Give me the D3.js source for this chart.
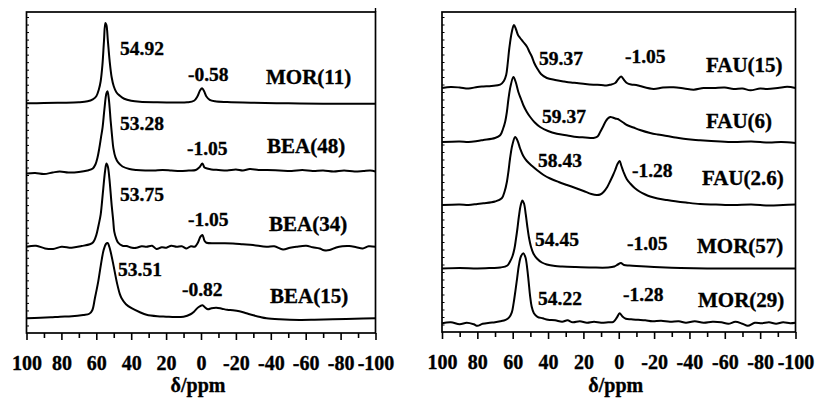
<!DOCTYPE html>
<html>
<head>
<meta charset="utf-8">
<script src="https://cdn.jsdelivr.net/npm/d3@7"></script>
<style>
  body { margin: 0; background: #fff; }
  text { font-family: "Liberation Serif", "Times New Roman", serif; font-weight: bold; fill: #000; stroke: #000; stroke-width: 0.35px; }
</style>
</head>
<body>
<svg id="chart" width="823" height="399"></svg>
<script>
// spectra: [ppm, intensity above own baseline (a.u.)]
const mor11 = [[100,0],[90,0.02],[80,0.05],[70,0.1],[65,0.2],[62,0.4],[60,0.7],[58.5,1.4],[57.5,2.2],[56.5,3.8],[55.6,6.2],[54.8,8.0],[54.2,7.8],[53.4,6.3],[52.4,4.3],[51.2,2.6],[50,1.7],[48.5,1.1],[46.5,0.75],[44,0.45],[40,0.25],[35,0.15],[25,0.1],[15,0.08],[8,0.1],[4,0.25],[2,0.7],[0.5,1.3],[-0.6,1.5],[-1.8,1.2],[-3,0.7],[-5,0.35],[-8,0.2],[-15,0.12],[-30,0.05],[-50,0],[-70,-0.05],[-100,-0.05]];
const bea48 = [[100,0],[95,0.05],[90,-0.05],[85,0.1],[81,0.2],[76,0.1],[70,0.15],[65,0.3],[62,0.5],[60.5,0.9],[59.3,1.6],[58.3,2.5],[57.3,3.6],[56.4,4.6],[55.3,6.5],[54.2,8.0],[53.6,8.2],[52.8,7.4],[51.8,5.3],[51,3.8],[50.2,2.5],[49,1.6],[47.5,1.1],[45,0.7],[41,0.45],[37,0.35],[32,0.3],[27,0.3],[22,0.35],[17,0.3],[12,0.25],[7,0.3],[3,0.35],[1,0.6],[-0.8,1.0],[-2,0.6],[-3.5,0.5],[-6,0.4],[-10,0.35],[-15,0.3],[-20,0.4],[-24,0.3],[-28,0.45],[-33,0.35],[-38,0.35],[-45,0.3],[-52,0.25],[-58,0.35],[-64,0.25],[-70,0.3],[-76,0.2],[-82,0.3],[-88,0.2],[-93,0.25],[-97,0.3],[-100,0.2]];
const bea34 = [[100,0],[94.5,0.1],[89.4,-0.17],[84.7,-0.23],[79.9,0],[74.1,-0.1],[68.4,0.07],[63.7,0.25],[61.8,0.45],[60.5,0.9],[59.5,1.5],[58.5,2.3],[57.5,3.2],[56.9,4.15],[56,5.8],[55,7.5],[54.2,8.3],[53.4,8.0],[52.5,6.8],[51.2,4.15],[50.3,2.6],[49.7,1.5],[48.6,0.8],[47.5,0.4],[45,0.1],[42.7,0.07],[39.5,-0.1],[36.9,-0.1],[34,0.05],[31.2,0],[28,0.1],[25.5,-0.23],[22.5,-0.05],[19.8,-0.1],[17,0.1],[14,0],[11,0.05],[8.3,-0.17],[5.8,0.05],[3.6,0],[1.8,0.4],[0.3,1.0],[-0.8,1.17],[-2,0.6],[-3.1,0.4],[-10,0.35],[-18.3,0.33],[-24,0.25],[-29.8,0.17],[-37.5,0],[-42,0.05],[-47,-0.27],[-51,-0.1],[-54.6,0],[-60.3,0.1],[-64,-0.05],[-68,-0.17],[-70.5,-0.35],[-73.7,-0.33],[-77.5,-0.07],[-81,0.05],[-85,0.07],[-89,-0.05],[-92.7,-0.17],[-96,0.05],[-100,0]];
const bea15 = [[100,0],[92,0.05],[86,0.1],[80.8,0.16],[74,0.2],[67.5,0.33],[64,0.45],[62.3,0.8],[60.8,2.0],[58.9,3.65],[57.4,5.3],[55.8,6.8],[54.5,7.4],[53.5,7.5],[52.5,7.1],[51.5,6.4],[50.4,5.5],[49.4,4.6],[48,3.4],[46.5,2.4],[45.5,2.0],[43,1.4],[39.8,1.0],[35,0.6],[31.2,0.35],[25,0.2],[20,0.16],[15,0.12],[10,0.16],[6,0.4],[4,0.66],[1.5,1.1],[-0.8,1.3],[-2.5,1.05],[-4,0.9],[-6,1.0],[-8.8,1.05],[-12,0.95],[-15,0.85],[-18.3,0.8],[-22,0.7],[-26,0.5],[-30,0.3],[-34,0.12],[-37.5,0],[-45,-0.1],[-56.5,-0.17],[-65,-0.15],[-75.6,-0.1],[-88,-0.05],[-100,0]];

const fau15 = [[100,0],[95,0.1],[90,0.05],[85,-0.05],[80,0.1],[76.6,0.15],[72,0.2],[67.1,0.33],[65,0.7],[63.7,1.3],[62.8,2.5],[61.9,4.0],[60.5,5.6],[59.3,6.3],[58.2,5.9],[57,5.3],[55.8,5.0],[54,4.6],[52,4.15],[50.5,3.6],[49.2,3.15],[47.8,2.5],[46.3,2.0],[44,1.4],[40.7,1.0],[36,0.8],[31.3,0.66],[27,0.55],[23.7,0.5],[19,0.4],[14.3,0.33],[10,0.3],[7,0.25],[4.8,0.33],[2,0.5],[0.2,0.9],[-1.4,1.15],[-3,0.8],[-4.6,0.5],[-7,0.35],[-9.9,0.3],[-12,0.2],[-19.7,-0.1],[-25,0.05],[-31,0.07],[-37,-0.05],[-42.4,-0.17],[-48,0],[-53.7,0],[-60,0.05],[-65,-0.1],[-70,-0.05],[-74.5,-0.23],[-80,-0.05],[-84,-0.1],[-90,0],[-95.3,0.12],[-100,0]];
const fau6 = [[100,0],[90,0.05],[85,0],[80,0.1],[76.6,0.2],[70,0.4],[67.1,0.67],[65.5,1.3],[64.3,2.0],[63.3,3.0],[62.4,4.3],[61.2,5.6],[59.6,6.5],[58.3,6.0],[56.8,5.0],[55.3,4.3],[53.9,3.65],[52,3.0],[50.1,2.5],[47.5,1.95],[44.5,1.5],[40,1.1],[35,0.83],[29,0.65],[23.7,0.5],[19,0.45],[14.3,0.4],[12,0.55],[10.5,1.0],[9,1.5],[7.6,2.0],[6.2,2.35],[4.8,2.5],[3.4,2.45],[2,2.35],[0.5,2.3],[-0.8,2.15],[-2.5,1.95],[-4.6,1.7],[-8.3,1.45],[-12,1.2],[-17.8,0.9],[-22,0.75],[-27.3,0.6],[-32,0.45],[-36.7,0.32],[-42,0.22],[-46,0.17],[-55,0.08],[-65,0],[-75,0.05],[-85,-0.05],[-92,0],[-100,-0.1]];
const fau26 = [[100,0],[90,0.05],[85,0],[80,0.1],[76.6,0.17],[70,0.35],[66.2,0.67],[64.5,1.4],[63.3,2.3],[62.3,3.5],[61.5,4.65],[60.2,6.0],[58.6,6.8],[57.2,6.4],[55.8,5.65],[54,4.9],[52,4.4],[49,3.9],[46.3,3.5],[42.5,3.0],[38.8,2.65],[34,2.3],[29.3,2.0],[24.5,1.7],[19.9,1.4],[15.5,1.1],[12.4,1.0],[10.5,1.05],[8.6,1.3],[6.5,1.8],[4.8,2.4],[3.2,3.0],[2,3.5],[0.7,4.1],[-0.5,4.4],[-1.5,3.9],[-2.7,3.3],[-4.5,2.6],[-6.5,2.15],[-9,1.7],[-12.2,1.3],[-15,1.05],[-17.8,0.85],[-22,0.65],[-27.3,0.5],[-32,0.38],[-38,0.25],[-46,0.1],[-55,0.05],[-65,0],[-75,0.05],[-85,-0.05],[-93,0],[-100,0.05]];
const mor57 = [[100,0],[90,0.05],[80,0],[72,0.05],[67,0.1],[63,0.3],[61.5,0.7],[60.2,1.2],[59,2.0],[58.2,2.9],[57.4,3.9],[56.5,5.2],[55.5,6.3],[54.5,6.8],[53.6,6.5],[52.6,5.4],[51.8,4.3],[50.8,3.1],[49.7,2.2],[48.3,1.5],[46.3,1.0],[43.5,0.6],[40.7,0.4],[36,0.25],[32,0.2],[25,0.15],[15,0.1],[6,0.1],[2.5,0.2],[0.5,0.4],[-1.2,0.55],[-3,0.35],[-6,0.3],[-10,0.25],[-20,0.15],[-35,0.05],[-50,0],[-70,0],[-90,0],[-100,0]];
const mor29 = [[100,0],[95,0.1],[90,-0.1],[86,0.05],[82,-0.1],[80,-0.25],[77,-0.05],[73,0.05],[70,0.1],[67,0.2],[64,0.35],[62,0.6],[60.5,1.1],[59.5,2.0],[58.5,3.2],[57.5,4.5],[56.5,5.8],[55.3,6.7],[54,7.0],[52.8,6.6],[51.8,5.5],[51,4.2],[50.2,2.8],[49.3,1.7],[48,1.0],[46,0.65],[43,0.5],[40,0.35],[36,0.3],[32,0.15],[29,0.3],[26,0.1],[22,0.2],[18,0.05],[14,0.15],[10,0.05],[6,0.1],[3,0.15],[1,0.6],[-0.5,1.0],[-2,0.7],[-4,0.45],[-7,0.4],[-11,0.35],[-15,0.3],[-19,0.2],[-24,0.25],[-29,0.15],[-34,0.2],[-38,0.05],[-43,0.2],[-48,0.05],[-53,0.15],[-58,0.1],[-62,-0.05],[-66,0.15],[-70,-0.05],[-73,-0.25],[-77,0.05],[-81,0],[-85,0.1],[-89,-0.05],[-93,0.1],[-97,0],[-100,0.05]];

// stacking offsets (a.u.), top to bottom
const leftOffsets = [22.9, 15.9, 8.6, 1.47];
const rightOffsets = [24.4, 19.0, 12.7, 6.35, 0.87];

const leftNames = ["MOR(11)", "BEA(48)", "BEA(34)", "BEA(15)"];
const rightNames = ["FAU(15)", "FAU(6)", "FAU(2.6)", "MOR(57)", "MOR(29)"];
const leftShifts = [["54.92", "-0.58"], ["53.28", "-1.05"], ["53.75", "-1.05"], ["53.51", "-0.82"]];
const rightShifts = [["59.37", "-1.05"], ["59.37", ""], ["58.43", "-1.28"], ["54.45", "-1.05"], ["54.22", "-1.28"]];

const majorTicks = [100, 80, 60, 40, 20, 0, -20, -40, -60, -80, -100];
const minorTicks = [90, 70, 50, 30, 10, -10, -30, -50, -70, -90];
const xTitle = "\u03b4/ppm";

// label placement (px inside svg)
const leftNamePos = [[266, 84], [267, 153], [269, 231], [270, 303]];
const leftShiftPos = [[[120, 55], [188, 81]], [[120, 130], [187, 155]], [[120, 201], [188, 226]], [[118, 276], [182, 296]]];
const rightNamePos = [[706, 72], [706, 128], [702, 185], [697, 253], [698, 307]];
const rightShiftPos = [[[539, 65], [625, 63]], [[542, 123], [0, 0]], [[538, 167], [632, 177]], [[535, 246], [627, 250]], [[538, 305], [623, 301]]];

const svg = d3.select("#chart");

function dessinePanneau(cfg) {
    const x = d3.scaleLinear().domain([100, -100]).range([cfg.left, cfg.right]);
    const y = d3.scaleLinear().domain([0, 32]).range([cfg.bottom, cfg.top]);
    const g = svg.append("g");

    const ligne = d3.line()
        .x(d => x(d[0]))
        .y(d => y(d[1]))
        .curve(d3.curveCatmullRom.alpha(0.5));

    cfg.spectres.forEach(function (s, i) {
        const off = cfg.offsets[i];
        g.append("path")
            .datum(s.map(p => [p[0], p[1] + off]))
            .attr("d", ligne)
            .attr("fill", "none")
            .attr("stroke", "#000")
            .attr("stroke-width", 2)
            .attr("stroke-linejoin", "round");
    });

    // cadre
    g.append("rect")
        .attr("x", cfg.left)
        .attr("y", cfg.top)
        .attr("width", cfg.right - cfg.left)
        .attr("height", cfg.bottom - cfg.top)
        .attr("fill", "none")
        .attr("stroke", "#000")
        .attr("stroke-width", 1.7);
    g.append("line")
        .attr("x1", cfg.right).attr("x2", cfg.right)
        .attr("y1", cfg.top - 4).attr("y2", cfg.top)
        .attr("stroke", "#000").attr("stroke-width", 1.4);

    // petits traits sur l'axe gauche
    const gy = g.append("g")
        .attr("transform", "translate(" + cfg.left + ",0)")
        .call(d3.axisLeft(y).tickValues(d3.range(0.75, 32, 0.75)).tickSize(-2.5).tickFormat(""));
    gy.select(".domain").remove();
    gy.selectAll("line").attr("stroke-width", 1);

    // axe x
    const gmin = g.append("g")
        .attr("transform", "translate(0," + cfg.bottom + ")")
        .call(d3.axisBottom(x).tickValues(minorTicks).tickSize(5).tickFormat(""));
    gmin.select(".domain").remove();
    gmin.selectAll("line").attr("stroke-width", 1.6);

    const gx = g.append("g")
        .attr("transform", "translate(0," + cfg.bottom + ")")
        .call(d3.axisBottom(x).tickValues(majorTicks).tickSize(7).tickPadding(15.8).tickFormat(d => String(d)));
    gx.select(".domain").remove();
    gx.selectAll("line").attr("stroke-width", 1.6);
    gx.selectAll("text")
        .style("font-family", '"Liberation Serif", serif')
        .style("font-weight", "bold")
        .style("font-size", "20px")
        .attr("fill", "#000");

    g.append("text")
        .attr("x", (cfg.left + cfg.right) / 2 - 3)
        .attr("y", 392)
        .attr("text-anchor", "middle")
        .style("font-size", "20px")
        .text(xTitle);

    // etiquettes
    cfg.noms.forEach(function (n, i) {
        g.append("text")
            .attr("x", cfg.nomPos[i][0])
            .attr("y", cfg.nomPos[i][1])
            .style("font-size", "21px")
            .text(n);
        cfg.shifts[i].forEach(function (t, j) {
            if (t === "") return;
            g.append("text")
                .attr("x", cfg.shiftPos[i][j][0])
                .attr("y", cfg.shiftPos[i][j][1])
                .style("font-size", "19.5px")
                .text(t);
        });
    });
}

dessinePanneau({
    left: 26.5, right: 375.5, top: 12, bottom: 333,
    spectres: [mor11, bea48, bea34, bea15],
    offsets: leftOffsets,
    noms: leftNames, nomPos: leftNamePos,
    shifts: leftShifts, shiftPos: leftShiftPos
});

dessinePanneau({
    left: 442, right: 795.5, top: 12, bottom: 332,
    spectres: [fau15, fau6, fau26, mor57, mor29],
    offsets: rightOffsets,
    noms: rightNames, nomPos: rightNamePos,
    shifts: rightShifts, shiftPos: rightShiftPos
});
</script>
</body>
</html>
